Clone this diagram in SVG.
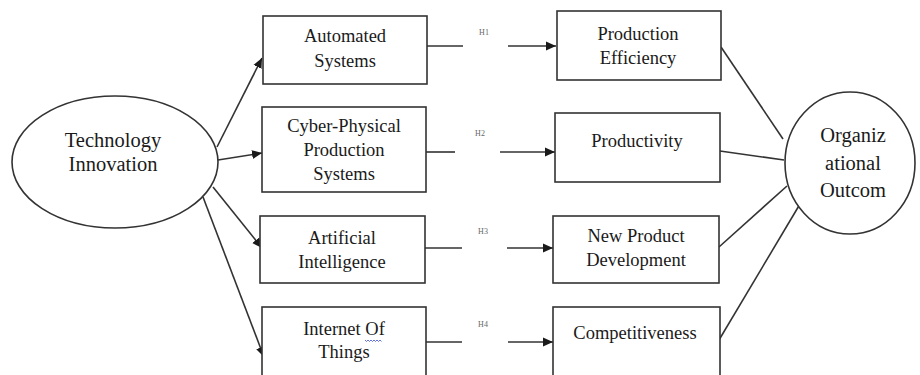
<svg xmlns="http://www.w3.org/2000/svg" width="920" height="375" viewBox="0 0 920 375">
<defs>
<marker id="ah" viewBox="0 0 10 10" refX="10" refY="5" markerWidth="10" markerHeight="10" markerUnits="userSpaceOnUse" orient="auto">
<path d="M0,0.5 L10,5 L0,9.5 Z" fill="#1a1a1a"/>
</marker>
<style>
.shape{fill:#fff;stroke:#333;stroke-width:1.6}
.t{font-family:"Liberation Serif","Times New Roman",serif;font-size:18.5px;fill:#1a1a1a;text-anchor:middle}
.big{font-size:20.5px}
.h{font-family:"Liberation Serif","Times New Roman",serif;font-size:8px;fill:#666;text-anchor:middle}
.c{fill:none;stroke:#333;stroke-width:1.6}
.a{marker-end:url(#ah)}
</style>
</defs>
<rect width="920" height="375" fill="#fff"/>

<g id="connectors">
<line class="c a" x1="217" y1="147" x2="262" y2="58"/>
<line class="c a" x1="218" y1="160" x2="262" y2="153"/>
<line class="c a" x1="213" y1="187" x2="262" y2="248"/>
<line class="c a" x1="203" y1="197" x2="264" y2="357"/>

<line class="c" x1="427" y1="46" x2="463" y2="46"/>
<line class="c a" x1="508" y1="46" x2="556" y2="46"/>
<line class="c" x1="426" y1="152" x2="455" y2="152"/>
<line class="c a" x1="500" y1="152" x2="555" y2="152"/>
<line class="c" x1="425" y1="248" x2="462" y2="248"/>
<line class="c a" x1="507" y1="248" x2="553" y2="248"/>
<line class="c" x1="426" y1="342" x2="462" y2="342"/>
<line class="c a" x1="508" y1="342" x2="553" y2="342"/>

<line class="c" x1="721" y1="47" x2="783" y2="139"/>
<line class="c" x1="720" y1="151" x2="784" y2="160"/>
<line class="c" x1="719" y1="247" x2="787" y2="186"/>
<line class="c" x1="719" y1="340" x2="800" y2="204"/>

<text class="h" x="484" y="35">H1</text>
<text class="h" x="480" y="136">H2</text>
<text class="h" x="483" y="234">H3</text>
<text class="h" x="483" y="327">H4</text>
</g>

<g id="tech-innovation">
<ellipse class="shape" cx="115" cy="162" rx="103" ry="66"/>
<text class="t big" x="113" y="147">Technology</text>
<text class="t big" x="113" y="171">Innovation</text>
</g>

<g id="automated-systems">
<rect class="shape" x="263" y="16" width="164" height="68"/>
<text class="t" x="345" y="42">Automated</text>
<text class="t" x="345" y="67">Systems</text>
</g>

<g id="cps">
<rect class="shape" x="262" y="107" width="164" height="85"/>
<text class="t" x="344" y="132">Cyber-Physical</text>
<text class="t" x="344" y="156">Production</text>
<text class="t" x="344" y="180">Systems</text>
</g>

<g id="ai">
<rect class="shape" x="260" y="216" width="165" height="67"/>
<text class="t" x="342" y="244">Artificial</text>
<text class="t" x="342" y="268">Intelligence</text>
</g>

<g id="iot">
<rect class="shape" x="262" y="307" width="164" height="75"/>
<text class="t" x="344" y="335">Internet Of</text>
<text class="t" x="344" y="358">Things</text>
<path d="M365,340 l1.5,1.5 l1.5,-1.5 l1.5,1.5 l1.5,-1.5 l1.5,1.5 l1.5,-1.5 l1.5,1.5 l1.5,-1.5 l1.5,1.5 l1.5,-1.5 l1.5,1.5" fill="none" stroke="#3a4fd0" stroke-width="0.8"/>
</g>

<g id="production-efficiency">
<rect class="shape" x="557" y="11" width="164" height="69"/>
<text class="t" x="638" y="40">Production</text>
<text class="t" x="638" y="64">Efficiency</text>
</g>

<g id="productivity">
<rect class="shape" x="555" y="113" width="165" height="69"/>
<text class="t" x="637" y="147">Productivity</text>
</g>

<g id="new-product-development">
<rect class="shape" x="553" y="216" width="166" height="67"/>
<text class="t" x="636" y="242">New Product</text>
<text class="t" x="636" y="266">Development</text>
</g>

<g id="competitiveness">
<rect class="shape" x="553" y="307" width="167" height="75"/>
<text class="t" x="635" y="339">Competitiveness</text>
</g>

<g id="organizational-outcome">
<ellipse class="shape" cx="850" cy="163" rx="65" ry="71"/>
<text class="t big" x="853" y="142">Organiz</text>
<text class="t big" x="853" y="170">ational</text>
<text class="t big" x="853" y="197">Outcom</text>
</g>
</svg>
